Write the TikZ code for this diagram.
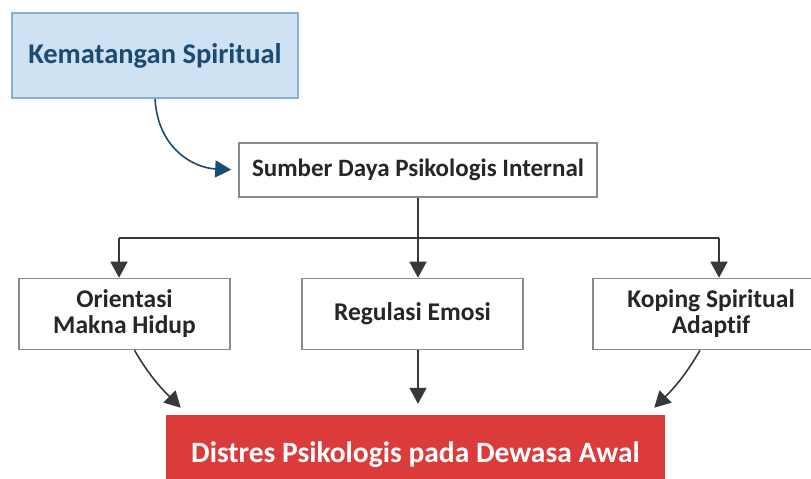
\documentclass[tikz,border=0pt]{standalone}
\usepackage{fontspec}
\setmainfont[Ligatures=NoCommon]{Carlito}
\usepackage{xcolor}
\definecolor{kemblue}{HTML}{CFE2F3}
\definecolor{kemline}{HTML}{8AAFD0}
\definecolor{kemtext}{HTML}{1B4A72}
\definecolor{boxline}{HTML}{858B91}
\definecolor{arrgray}{HTML}{383838}
\definecolor{distred}{HTML}{DC3B3B}
\usetikzlibrary{positioning,calc,arrows.meta}

\tikzset{
  whitebox/.style={draw=boxline, line width=1.6pt, fill=white, inner sep=0pt, align=center, font=\bfseries\fontsize{25.5}{26}\selectfont, text=black!85},
  arr/.style={-{Triangle[length=16pt,width=17pt]}, line width=1.6pt, arrgray},
}

\begin{document}
\begin{tikzpicture}[x=1pt, y=-1pt]
			\useasboundingbox (0,0) rectangle (811,479);
			\clip (0,0) rectangle (811,479);
			\node[draw=kemline, line width=1.6pt, fill=kemblue, minimum width=286pt, minimum height=85pt, text=kemtext, font=\bfseries\fontsize{28.5}{30}\selectfont] (kem) at (155,55.5) {Kematangan Spiritual};
			\node[whitebox, minimum width=358pt, minimum height=54pt, font=\bfseries\fontsize{25}{27}\selectfont] (sdp) at (418,170) {Sumber Daya Psikologis Internal};
			\node[whitebox, minimum width=211pt, minimum height=71pt] (ori) at (124.5,314) {Orientasi\\Makna Hidup};
			\node[whitebox, minimum width=221pt, minimum height=71pt] (reg) at (412.5,314) {Regulasi Emosi};
			\node[whitebox, minimum width=236pt, minimum height=71pt] (kop) at (711,314) {Koping Spiritual\\Adaptif};
			\node[fill=distred, minimum width=499pt, minimum height=84pt, text=white, font=\bfseries\fontsize{29.5}{31}\selectfont] (dis) at (415.5,457) {\raisebox{9pt}{Distres Psikologis pada Dewasa Awal}};
			% kematangan -> sumber daya
			\draw[arr, kemtext, shorten >=7pt] (kem.south) .. controls (158,150) and (195,168) .. (sdp.west);
			% cabang ke tiga faktor
			\coordinate (bl) at (119,238);
			\coordinate (br) at (719,238);
			\draw[line width=1.6pt, arrgray] (bl) -- (br);
			\draw[arr] (bl) -- (bl |- ori.north);
			\draw[arr] (br) -- (br |- kop.north);
			\draw[arr] (sdp.south) -- (sdp.south |- reg.north);
			% ke distres
			\draw[arr, shorten >=10pt] ($(ori.south)+(10,0)$) to[out=-60, in=135] ($(dis.north west)+(22,0)$);
			\draw[arr, shorten >=11pt] (reg.south -| sdp.south) -- (dis.north -| sdp.south);
			\draw[arr, shorten >=10pt] ($(kop.south)+(-11,0)$) to[out=-120, in=45] ($(dis.north east)+(-18,0)$);
		\end{tikzpicture}
\end{document}
